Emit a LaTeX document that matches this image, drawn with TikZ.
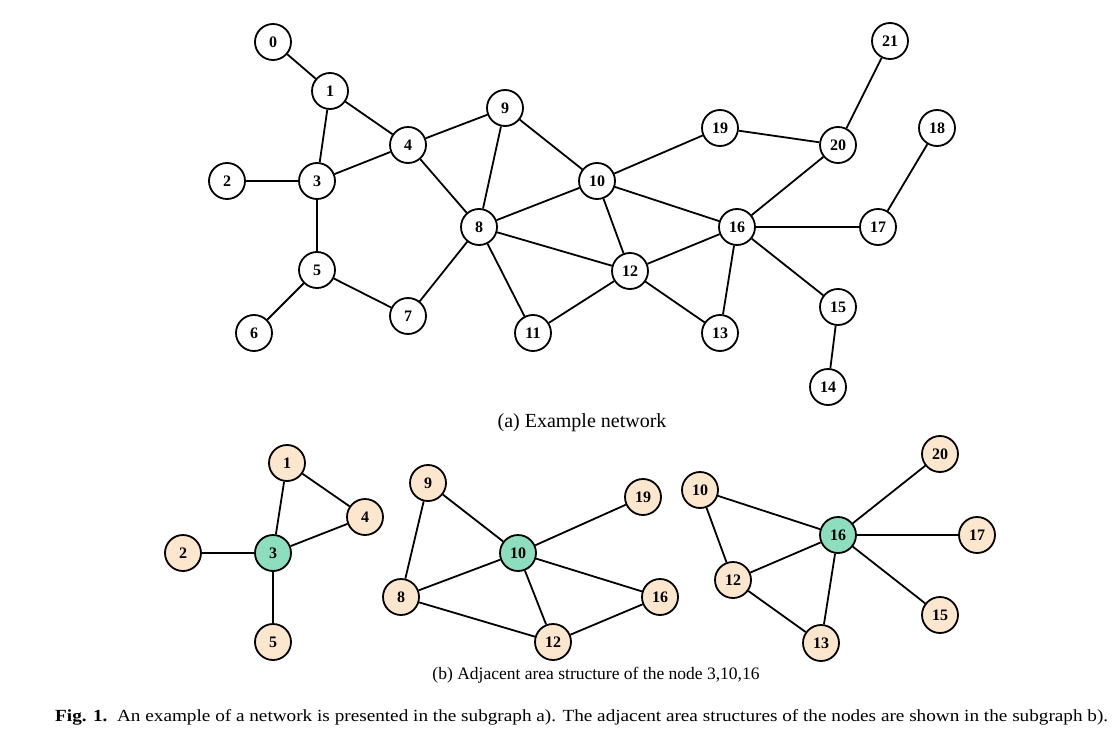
\documentclass[tikz,border=0pt]{standalone}
\usepackage{fontspec}
\setmainfont{Liberation Serif}
\usepackage{tikz}

\definecolor{cream}{RGB}{252,230,205}
\definecolor{mint}{RGB}{140,222,190}

\begin{document}
\begin{tikzpicture}[x=1pt, y=-1pt,
    vertex/.style={circle, draw, line width=1.8pt, fill=white, minimum size=36pt, inner sep=0pt,
        font=\fontsize{16}{16}\selectfont\bfseries},
    nbr/.style={vertex, fill=cream},
    hub/.style={vertex, fill=mint},
    edge/.style={line width=1.8pt}]
    \useasboundingbox (0,0) rectangle (1119,733);

    % Example network
    \node[vertex] (a0) at (273,42) {0};
    \node[vertex] (a1) at (330,91) {1};
    \node[vertex] (a2) at (227,181) {2};
    \node[vertex] (a3) at (317,181) {3};
    \node[vertex] (a4) at (408,145) {4};
    \node[vertex] (a5) at (317,270) {5};
    \node[vertex] (a6) at (254,333) {6};
    \node[vertex] (a7) at (408,316) {7};
    \node[vertex] (a8) at (479,227) {8};
    \node[vertex] (a9) at (505,108) {9};
    \node[vertex] (a10) at (597,181) {10};
    \node[vertex] (a11) at (533,333) {11};
    \node[vertex] (a12) at (630,271) {12};
    \node[vertex] (a13) at (720,333) {13};
    \node[vertex] (a14) at (828,387) {14};
    \node[vertex] (a15) at (838,307) {15};
    \node[vertex] (a16) at (737,227) {16};
    \node[vertex] (a17) at (878,227) {17};
    \node[vertex] (a18) at (937,128) {18};
    \node[vertex] (a19) at (720,128) {19};
    \node[vertex] (a20) at (838,145) {20};
    \node[vertex] (a21) at (890,41) {21};

    \draw[edge] (a0) -- (a1);
    \draw[edge] (a1) -- (a3);
    \draw[edge] (a1) -- (a4);
    \draw[edge] (a2) -- (a3);
    \draw[edge] (a3) -- (a4);
    \draw[edge] (a3) -- (a5);
    \draw[edge] (a4) -- (a9);
    \draw[edge] (a4) -- (a8);
    \draw[edge] (a5) -- (a6);
    \draw[edge] (a5) -- (a7);
    \draw[edge] (a7) -- (a8);
    \draw[edge] (a8) -- (a9);
    \draw[edge] (a9) -- (a10);
    \draw[edge] (a8) -- (a10);
    \draw[edge] (a8) -- (a11);
    \draw[edge] (a8) -- (a12);
    \draw[edge] (a10) -- (a12);
    \draw[edge] (a10) -- (a19);
    \draw[edge] (a10) -- (a16);
    \draw[edge] (a11) -- (a12);
    \draw[edge] (a12) -- (a16);
    \draw[edge] (a12) -- (a13);
    \draw[edge] (a13) -- (a16);
    \draw[edge] (a16) -- (a15);
    \draw[edge] (a15) -- (a14);
    \draw[edge] (a16) -- (a17);
    \draw[edge] (a17) -- (a18);
    \draw[edge] (a19) -- (a20);
    \draw[edge] (a16) -- (a20);
    \draw[edge] (a20) -- (a21);

    \node (capa) at (582,423) {\fontsize{20}{20}\selectfont (a) Example network};

    % Adjacent area of node 3
    \node[nbr] (p1) at (287,463) {1};
    \node[nbr] (p4) at (365,517) {4};
    \node[nbr] (p2) at (183,553) {2};
    \node[hub] (p3) at (273,553) {3};
    \node[nbr] (p5) at (273,642) {5};
    \draw[edge] (p1) -- (p3);
    \draw[edge] (p1) -- (p4);
    \draw[edge] (p3) -- (p4);
    \draw[edge] (p2) -- (p3);
    \draw[edge] (p3) -- (p5);

    % Adjacent area of node 10
    \node[nbr] (q9) at (428,483) {9};
    \node[nbr] (q19) at (643,497) {19};
    \node[hub] (q10) at (518,553) {10};
    \node[nbr] (q8) at (401,597) {8};
    \node[nbr] (q16) at (660,597) {16};
    \node[nbr] (q12) at (553,642) {12};
    \draw[edge] (q9) -- (q10);
    \draw[edge] (q9) -- (q8);
    \draw[edge] (q10) -- (q19);
    \draw[edge] (q10) -- (q8);
    \draw[edge] (q10) -- (q16);
    \draw[edge] (q10) -- (q12);
    \draw[edge] (q8) -- (q12);
    \draw[edge] (q12) -- (q16);

    % Adjacent area of node 16
    \node[nbr] (r20) at (940,454) {20};
    \node[nbr] (r10) at (700,490) {10};
    \node[hub] (r16) at (838,535) {16};
    \node[nbr] (r17) at (977,535) {17};
    \node[nbr] (r12) at (733,580) {12};
    \node[nbr] (r15) at (940,615) {15};
    \node[nbr] (r13) at (821,643) {13};
    \draw[edge] (r10) -- (r16);
    \draw[edge] (r10) -- (r12);
    \draw[edge] (r16) -- (r20);
    \draw[edge] (r16) -- (r17);
    \draw[edge] (r16) -- (r12);
    \draw[edge] (r16) -- (r13);
    \draw[edge] (r16) -- (r15);
    \draw[edge] (r12) -- (r13);

    \node (capb) at (596,675) {\fontsize{17.5}{17.5}\selectfont (b) Adjacent area structure of the node 3,10,16};

    % Figure caption
    \node[anchor=west, inner sep=0pt] (figcap) at (55,717) {\scalebox{1.13}[1]{\fontsize{17}{17}\selectfont\textbf{Fig. 1.}\ \ An example of a network is presented in the subgraph a). The adjacent area structures of the nodes are shown in the subgraph b).}};
\end{tikzpicture}
\end{document}
